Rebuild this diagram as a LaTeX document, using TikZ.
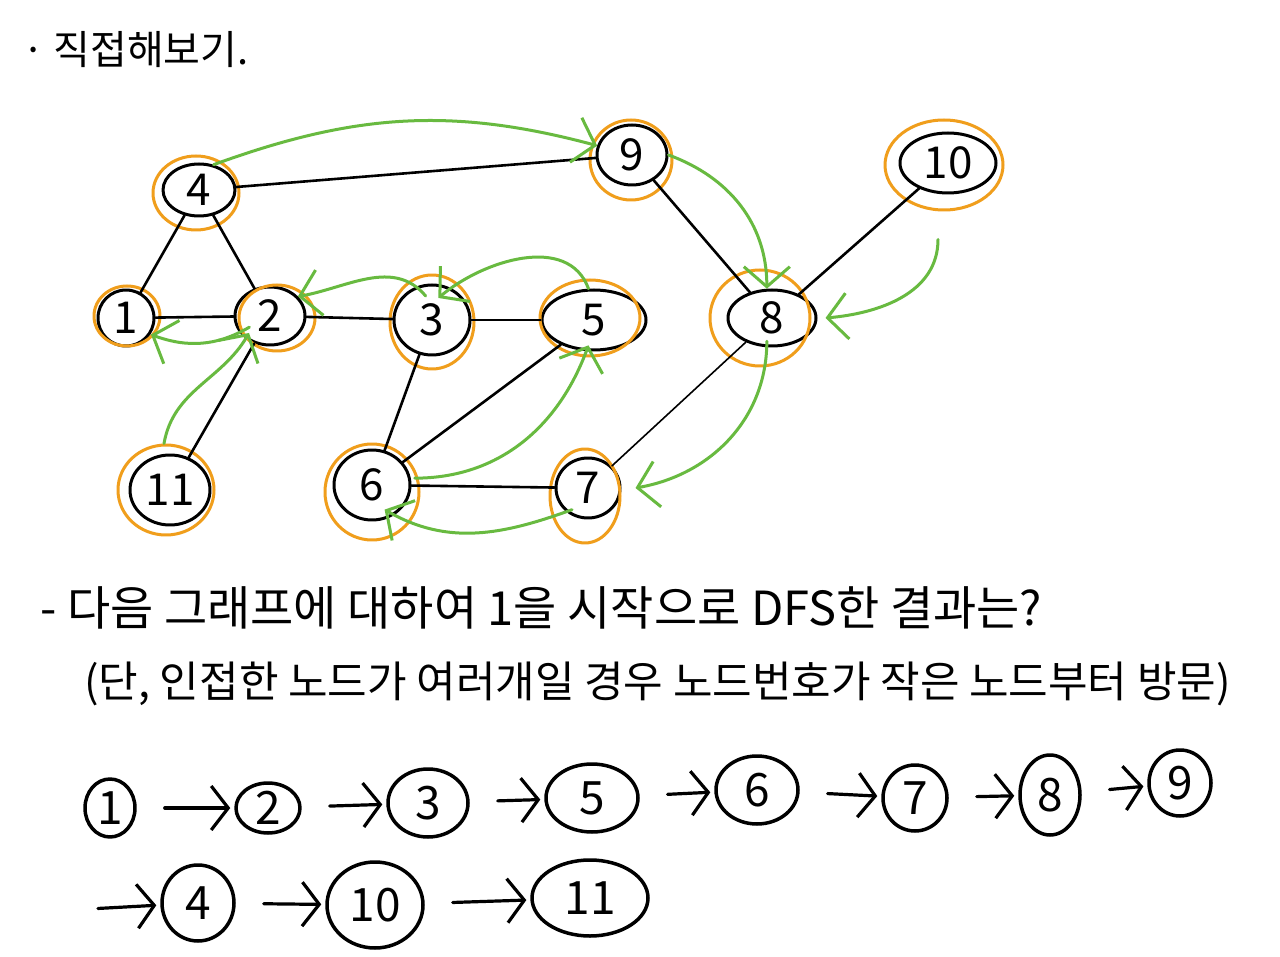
\documentclass[tikz,border=0pt]{standalone}
\usepackage{fontspec}
\newfontfamily\kor{Noto Sans CJK KR}
\usetikzlibrary{shapes.geometric,arrows.meta}
\definecolor{penorange}{RGB}{240,158,28}
\definecolor{pengreen}{RGB}{104,186,64}
\tikzset{
  vtx/.style={draw, ellipse, line width=3, inner sep=0pt, font=\kor\fontsize{44}{44}\selectfont},
  ring/.style={draw=penorange, line width=3},
  edge/.style={line width=2.6},
  dfs/.style={draw=pengreen, line width=3, -{Straight Barb[length=20pt,width=46pt]}},
  seqnode/.style={draw, ellipse, line width=3.5, inner sep=0pt, font=\kor\fontsize{46}{46}\selectfont},
  seq/.style={line width=3.2, -{Straight Barb[length=17pt,width=44pt]}, shorten <=28pt, shorten >=4pt},
  txt/.style={anchor=west, inner sep=0pt}
}
\begin{document}
\begin{tikzpicture}[x=1pt, y=-1pt, line join = round, line cap = round]
	\useasboundingbox[fill=white] (0,0) rectangle (1280,957);
	% title and question
	\node[txt, font=\kor\fontsize{40}{46}\selectfont] (title) at (22,50) {· 직접해보기.};
	\node[txt, font=\kor\fontsize{47}{54}\selectfont] (q1) at (40,608) {- 다음 그래프에 대하여 1을 시작으로 DFS한 결과는?};
	\node[txt, font=\kor\fontsize{43}{50}\selectfont] (q2) at (84,684) {(단, 인접한 노드가 여러개일 경우 노드번호가 작은 노드부터 방문)};
	% graph
	\node[vtx, minimum width=72, minimum height=52] (n4) at (199,190) {4};
	\node[vtx, minimum width=70, minimum height=60] (n9) at (632,155) {9};
	\node[vtx, minimum width=96, minimum height=60] (n10) at (948,163) {10};
	\node[vtx, minimum width=56, minimum height=56] (n1) at (126,318) {1};
	\node[vtx, minimum width=70, minimum height=58] (n2) at (270,316) {2};
	\node[vtx, minimum width=76, minimum height=70] (n3) at (432,320) {3};
	\node[vtx, minimum width=104, minimum height=60] (n5) at (594,320) {5};
	\node[vtx, minimum width=88, minimum height=56] (n8) at (772,318) {8};
	\node[vtx, minimum width=80, minimum height=70] (n11) at (170,490) {11};
	\node[vtx, minimum width=76, minimum height=70] (n6) at (372,485) {6};
	\node[vtx, minimum width=64, minimum height=60] (n7) at (588,488) {7};
	\draw[ring] (196,193) ellipse (43pt and 37pt);
	\draw[ring] (631,160) ellipse (41pt and 40pt);
	\draw[ring] (944,165) ellipse (59pt and 45pt);
	\draw[ring] (127,316) ellipse (33pt and 30pt);
	\draw[ring] (277,318) ellipse (38pt and 33pt);
	\draw[ring] (432,322) ellipse (42pt and 47pt);
	\draw[ring] (590,318) ellipse (50pt and 38pt);
	\draw[ring] (760,318) ellipse (50pt and 48pt);
	\draw[ring] (166,490) ellipse (48pt and 45pt);
	\draw[ring] (372,492) ellipse (47pt and 48pt);
	\draw[ring] (585,496) ellipse (35pt and 47pt);
	
	\draw[edge] (n4) -- (n9);
	\draw[edge] (n4) -- (n1);
	\draw[edge] (n4) -- (n2);
	\draw[edge] (n1) -- (n2);
	\draw[edge] (n2) -- (n3);
	\draw[edge] (n3) -- (n5);
	\draw[edge] (n2) -- (n11);
	\draw[edge] (n3) -- (n6);
	\draw[edge] (n6) -- (n5);
	\draw[edge] (n6) -- (n7);
	\draw[edge] (n9) -- (n8);
	\draw[edge] (n8) -- (n10);
	\draw[line width=1.6] (n7) -- (n8);
	
	% dfs trace
	\draw[dfs] (n4.60) to[out=20,in=165] (n9.165);
	\draw[dfs] (n9.east) to[out=-20,in=90] (n8.100);
	\draw[dfs] (n10.-90) ++(-10,45) to[out=-90,in=5] ([xshift=8pt]n8.east);
	\draw[dfs] ([yshift=6pt]n8.-100) to[out=-90,in=10] ([xshift=14pt]n7.east);
	\draw[dfs] ([yshift=6pt]n7.-120) to[out=-160,in=-30] ([yshift=10pt]n6.-70);
	\draw[dfs] ([xshift=4pt]n6.10) to[out=0,in=-110] ([yshift=6pt]n5.-100);
	\draw[dfs] (n5.100) to[out=110,in=40] ([yshift=-14pt]n3.80);
	\draw[dfs] ([yshift=-12pt]n3.100) to[out=130,in=10] ([xshift=12pt,yshift=-8pt]n2.60);
	\draw[dfs] (n11.90) ++(-6,-10) to[out=80,in=-120] ([yshift=8pt]n2.-130);
	\draw[dfs] ([xshift=-10pt,yshift=18pt]n2.-110) to[out=-150,in=-20] ([xshift=6pt,yshift=6pt]n1.-50);
	
	% answer sequence
	\node[seqnode, minimum width=50, minimum height=58] (s1) at (110,808) {1};
	\node[seqnode, minimum width=64, minimum height=50] (s2) at (268,808) {2};
	\node[seqnode, minimum width=80, minimum height=68] (s3) at (428,803) {3};
	\node[seqnode, minimum width=92, minimum height=68] (s5) at (592,798) {5};
	\node[seqnode, minimum width=82, minimum height=68] (s6) at (757,790) {6};
	\node[seqnode, minimum width=64, minimum height=66] (s7) at (915,798) {7};
	\node[seqnode, minimum width=60, minimum height=80] (s8) at (1050,795) {8};
	\node[seqnode, minimum width=62, minimum height=66] (s9) at (1180,783) {9};
	\coordinate (wrap) at (70,910);
	\node[seqnode, minimum width=72, minimum height=76] (s4) at (198,903) {4};
	\node[seqnode, minimum width=96, minimum height=86] (s10) at (375,905) {10};
	\node[seqnode, minimum width=116, minimum height=76] (s11) at (590,898) {11};
	
	\draw[seq] (s1) -- (s2);
	\draw[seq] (s2) -- (s3);
	\draw[seq] (s3) -- (s5);
	\draw[seq] (s5) -- (s6);
	\draw[seq] (s6) -- (s7);
	\draw[seq] (s7) -- (s8);
	\draw[seq] (s8) -- (s9);
	\draw[seq] (wrap) -- (s4);
	\draw[seq] (s4) -- (s10);
	\draw[seq] (s10) -- (s11);
	
\end{tikzpicture}
\end{document}
